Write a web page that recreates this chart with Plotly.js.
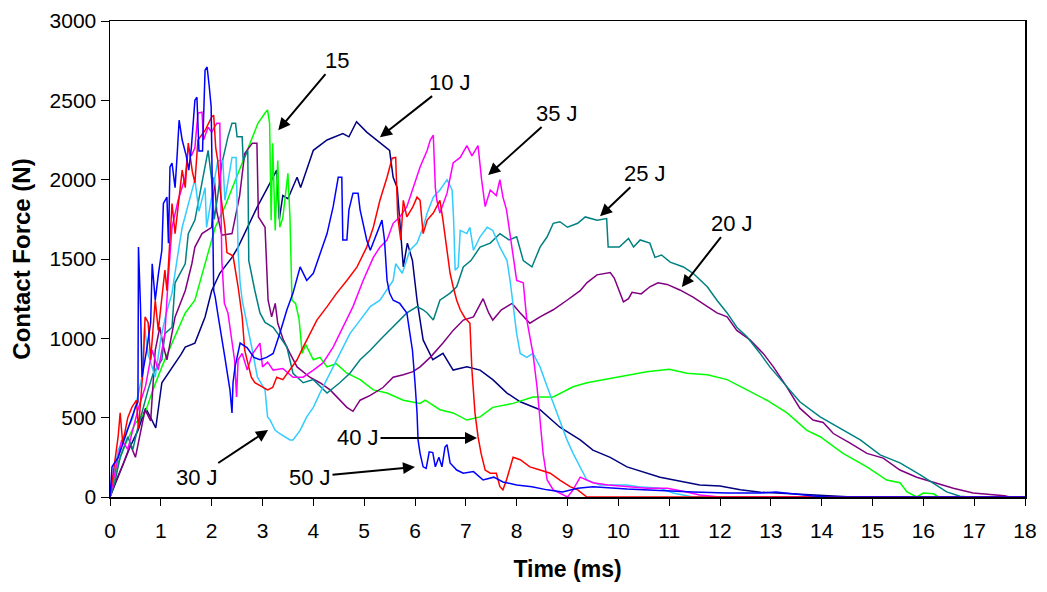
<!DOCTYPE html>
<html>
<head>
<meta charset="utf-8">
<script src="https://cdn.plot.ly/plotly-3.0.1.min.js"></script>
<style>html,body{margin:0;padding:0;background:#fff;}#chart{width:1047px;height:592px;}</style>
</head>
<body>
<div id="chart"></div>
<script>
// ---- data (time in ms, force in N) ----
const t10 = [0,0.1,0.25,0.4,0.55,0.7,0.8,0.9,1.02,1.15,1.28,1.4,1.48,1.67,1.87,2.0,2.16,2.4,2.52,2.7,2.9,3.1,3.28,3.33,3.4,3.5,3.68,3.75,4.0,4.27,4.58,4.7,4.85,5.05,5.25,5.5,5.57,5.65,5.77,5.85,5.95,6.04,6.16,6.35,6.55,6.75,7.02,7.28,7.53,7.81,8.07,8.46,8.85,9.25,9.5,9.84,10.17,10.82,11.6,12.0,12.4,12.8,13.4,14.0,14.6,18];
const f10 = [0,80,200,320,420,560,500,435,720,780,845,900,945,970,1135,1300,1410,1510,1575,1700,1830,1950,2060,1750,1900,1880,2015,1950,2185,2250,2290,2270,2365,2300,2250,2185,2015,1950,1450,1600,1490,1240,990,865,905,800,820,800,740,655,600,550,440,360,295,250,190,125,75,70,45,30,20,10,0,0];

const t15 = [0,0.04,0.16,0.3,0.5,0.69,0.85,1.02,1.22,1.48,1.67,1.87,2.07,2.26,2.52,2.71,2.91,3.05,3.1,3.14,3.17,3.2,3.25,3.3,3.34,3.4,3.5,3.54,3.58,3.65,3.72,3.78,3.85,4.0,4.13,4.27,4.45,4.66,4.92,5.18,5.45,5.77,6.1,6.2,6.49,6.75,7.02,7.28,7.53,7.93,8.32,8.72,9.11,9.38,9.71,10.17,10.56,11.0,11.35,11.75,12.14,12.53,12.92,13.32,13.71,13.97,14.42,14.89,15.28,15.54,15.68,15.87,16.0,16.2,16.3,18];
const f15 = [0,45,215,330,465,530,680,820,970,1160,1240,1470,1700,1830,2040,2205,2355,2420,2440,2355,1745,2230,1680,2120,1700,1760,2040,1765,1240,1220,1120,905,960,865,880,820,840,780,740,675,655,610,590,610,550,530,485,505,565,590,630,630,695,720,740,770,790,805,780,770,740,675,610,530,420,380,275,190,107,90,32,0,25,20,0,0];

const t20 = [0,0.1,0.25,0.4,0.5,0.6,0.69,0.8,0.89,0.98,1.05,1.12,1.2,1.28,1.48,1.61,1.67,1.81,2.0,2.05,2.1,2.2,2.4,2.55,2.65,2.8,2.89,2.92,3.05,3.11,3.18,3.25,3.3,3.41,3.54,3.68,3.93,4.13,4.33,4.52,4.66,4.78,4.92,5.12,5.37,5.57,5.77,5.96,6.1,6.3,6.55,6.75,6.95,7.15,7.34,7.45,7.53,7.7,7.91,8.07,8.26,8.46,8.72,8.99,9.25,9.38,9.58,9.84,9.92,10.1,10.2,10.27,10.45,10.62,10.78,10.96,11.21,11.47,11.75,11.94,12.14,12.33,12.59,12.85,13.05,13.3,13.57,13.83,14.03,14.23,14.56,14.89,15.21,15.54,15.87,16.2,16.59,16.98,17.3,17.6,17.7,18];
const f20 = [0,90,200,330,250,420,550,480,925,1070,950,865,1000,1135,1300,1470,1575,1660,1700,2015,1800,1650,1660,1900,2165,2230,2230,1765,1700,1240,1135,1220,1095,990,905,820,755,720,675,610,565,540,610,640,690,755,770,790,820,880,970,1050,1115,1135,1250,1160,1115,1180,1220,1160,1095,1135,1180,1240,1300,1350,1400,1415,1380,1230,1250,1290,1280,1325,1350,1340,1305,1260,1200,1160,1135,1050,990,905,820,700,560,485,470,400,340,275,245,170,125,95,55,25,15,8,0,0];

const t25 = [0,0.1,0.2,0.35,0.45,0.55,0.75,0.85,1.02,1.08,1.22,1.28,1.48,1.54,1.67,1.81,1.88,1.93,2.0,2.05,2.12,2.2,2.32,2.4,2.47,2.5,2.6,2.62,2.71,2.73,2.85,2.95,3.05,3.21,3.3,3.48,3.6,3.8,4.0,4.27,4.52,4.72,4.92,5.12,5.31,5.5,5.7,5.84,6.04,6.16,6.24,6.36,6.49,6.69,6.82,6.95,7.1,7.28,7.48,7.67,7.85,8.0,8.13,8.3,8.46,8.6,8.72,8.85,9.0,9.2,9.35,9.58,9.77,9.8,10.02,10.2,10.3,10.43,10.62,10.72,10.85,11.02,11.28,11.47,11.75,11.94,12.14,12.33,12.53,12.79,12.98,13.3,13.57,13.97,14.36,14.76,15.15,15.54,15.94,16.2,16.46,16.72,16.9,18];
const f25 = [0,100,250,380,300,440,675,780,865,1030,1070,1350,1470,1660,1745,1980,2105,2185,2000,1750,1900,2100,2270,2355,2355,2270,2270,2120,2185,1490,1300,1160,1100,1070,1030,945,780,720,740,655,720,780,865,925,990,1050,1115,1160,1200,1180,1160,1115,1240,1285,1325,1450,1490,1575,1600,1660,1620,1640,1490,1450,1575,1640,1725,1735,1700,1725,1765,1745,1755,1575,1575,1630,1575,1620,1600,1510,1525,1480,1450,1410,1325,1240,1160,1070,1010,905,820,700,600,505,435,360,265,215,140,88,32,5,0,0];

const t30 = [0,0.08,0.16,0.3,0.45,0.63,0.68,0.75,0.89,1.0,1.1,1.22,1.28,1.34,1.42,1.54,1.67,1.75,1.87,1.9,2.0,2.12,2.22,2.26,2.4,2.48,2.5,2.52,2.56,2.6,2.8,2.9,3.05,3.1,3.15,3.25,3.34,3.54,3.6,3.74,3.87,4.0,4.13,4.33,4.52,4.72,4.92,5.12,5.31,5.45,5.57,5.62,5.75,5.9,6.04,6.16,6.24,6.36,6.49,6.63,6.73,6.76,6.79,6.85,6.89,7.02,7.08,7.15,7.28,7.42,7.53,7.67,7.81,7.87,7.93,8.0,8.07,8.2,8.32,8.46,8.6,8.72,8.85,8.99,9.11,9.25,9.38,9.64,10.17,10.4,10.82,11.08,11.47,18];
const f30 = [0,150,295,400,500,755,1070,900,755,1000,1150,1285,1430,1540,1700,1850,2000,1800,1950,1700,1900,2120,2120,1870,2140,2140,1870,1550,1350,1240,925,755,675,505,485,420,400,360,360,420,505,565,655,780,905,1030,1115,1200,1240,1305,1365,1470,1410,1555,1600,1700,1790,1890,1935,2000,1935,1745,1430,1450,1680,1660,1700,1555,1640,1700,1680,1575,1490,1365,1200,1030,905,880,905,820,695,590,485,360,275,190,107,75,75,65,55,25,0,0];

const t35 = [0,0.1,0.23,0.35,0.55,0.7,0.83,0.95,1.08,1.14,1.18,1.22,1.34,1.48,1.54,1.6,1.67,1.73,1.81,1.84,1.93,2.0,2.1,2.16,2.2,2.25,2.32,2.4,2.45,2.49,2.52,2.6,2.7,2.8,2.95,3.0,3.1,3.21,3.4,3.6,3.8,4.0,4.19,4.39,4.58,4.78,4.98,5.18,5.31,5.45,5.57,5.7,5.84,5.96,6.1,6.24,6.3,6.36,6.4,6.43,6.49,6.63,6.75,6.89,7.02,7.12,7.24,7.31,7.38,7.48,7.6,7.67,7.73,7.8,7.87,7.93,8.0,8.13,8.2,8.32,8.4,8.46,8.52,8.6,8.72,9.0,9.1,9.25,9.5,9.8,10.17,10.56,10.96,11.3,11.6,12.0,18];
const f35 = [0,150,360,300,550,700,925,800,1030,1350,1510,1700,1870,2015,2205,2150,2200,2420,2425,2250,2330,2300,2355,2355,1490,1220,1160,970,865,630,865,905,800,900,970,820,850,800,810,755,755,800,845,945,1070,1200,1365,1510,1575,1620,1725,1765,1830,1950,2080,2185,2250,2280,1950,1870,1790,1915,2105,2140,2215,2150,2215,2000,1830,1935,1900,2000,1890,1810,1660,1540,1365,1350,1115,905,695,485,275,107,45,0,40,125,90,75,65,55,55,35,12,0,0];

const t40 = [0,0.04,0.16,0.2,0.25,0.35,0.43,0.52,0.56,0.65,0.69,0.75,0.8,0.89,0.95,1.08,1.12,1.22,1.28,1.42,1.48,1.54,1.62,1.67,1.73,1.87,2.0,2.04,2.08,2.12,2.16,2.26,2.3,2.42,2.52,2.6,2.65,2.71,2.78,2.85,3.0,3.1,3.2,3.28,3.4,3.54,3.68,3.8,3.93,4.07,4.27,4.46,4.66,4.86,5.05,5.18,5.31,5.45,5.55,5.62,5.64,5.66,5.72,5.77,5.84,5.96,6.04,6.1,6.16,6.24,6.36,6.49,6.55,6.63,6.69,6.75,6.82,6.89,6.98,7.08,7.12,7.18,7.24,7.3,7.38,7.48,7.6,7.67,7.73,7.8,7.93,8.07,8.26,8.46,8.66,8.85,9.05,9.2,9.38,18];
const f40 = [0,90,380,530,340,500,565,610,430,800,1135,1100,865,1240,1050,1430,1300,1850,1660,2060,1950,2230,2050,1980,2250,2310,2395,2405,2200,2120,1950,1700,1540,1520,1325,1135,925,845,755,720,695,675,690,755,740,800,865,945,1030,1115,1200,1285,1365,1450,1575,1700,1870,2015,2135,2140,1950,1765,1620,1870,1765,1830,1890,1870,1660,1745,1790,1870,1745,1555,1410,1325,1240,1180,1130,1095,800,530,380,275,170,150,150,65,45,107,250,235,190,170,150,107,65,45,0,0];

const t50 = [0,0.04,0.16,0.3,0.43,0.5,0.55,0.56,0.6,0.63,0.72,0.8,0.83,0.89,0.95,1.02,1.05,1.12,1.15,1.18,1.22,1.28,1.32,1.36,1.42,1.5,1.55,1.6,1.67,1.71,1.75,1.82,1.87,1.91,1.95,1.99,2.04,2.07,2.13,2.2,2.26,2.32,2.36,2.4,2.42,2.46,2.56,2.7,2.83,2.95,3.08,3.21,3.34,3.48,3.6,3.74,3.87,4.0,4.13,4.27,4.39,4.49,4.56,4.58,4.66,4.7,4.78,4.88,4.92,5.05,5.12,5.25,5.35,5.4,5.45,5.5,5.57,5.7,5.84,5.9,5.95,6.0,6.04,6.06,6.1,6.16,6.22,6.28,6.35,6.4,6.47,6.53,6.59,6.63,6.69,6.82,6.95,7.15,7.34,7.55,7.73,8.0,8.3,8.6,8.9,9.2,9.5,10.17,10.82,11.47,12.14,12.8,13.1,13.4,13.8,14.1,18];
const f50 = [0,190,250,380,505,565,600,1575,1200,755,925,1100,1470,1240,1400,1555,1850,1890,1600,2080,2105,1950,2150,2375,2250,2150,2060,2200,2500,2520,2180,2180,2690,2710,2595,2460,1300,1260,1135,1010,880,755,675,530,720,820,970,940,880,865,880,905,1030,1180,1285,1450,1365,1410,1530,1660,1830,2015,2015,1620,1620,1810,1915,1915,1810,1620,1555,1660,1745,1620,1365,1285,1240,1220,1160,1030,925,720,530,360,275,190,180,285,280,190,250,190,315,330,215,170,150,160,107,125,95,75,65,45,32,55,65,50,40,32,25,25,32,20,8,0,0];

const seriesNames = ['10 J','15 J','20 J','25 J','30 J','35 J','40 J','50 J'];
const seriesColors = ['#000080','#00FF00','#800080','#008080','#33CCFF','#FF00FF','#FF0000','#0000FF'];
const seriesT = [t10,t15,t20,t25,t30,t35,t40,t50];
const seriesF = [f10,f15,f20,f25,f30,f35,f40,f50];

// annotation labels: text, arrow-head position (time, force), text offset in px
const labelText = ['15','10 J','35 J','25 J','20 J','30 J','50 J','40 J'];
const labelT = [3.31,5.31,7.44,9.64,11.25,3.11,6.0,7.22];
const labelF = [2312,2268,2029,1770,1323,422,189,372];
const labelDx = [59,70,69,45,50,-71,-105,-119];
const labelDy = [-70,-55,-62,-43,-64,47,10,0];

const FONT = 'Liberation Sans, Arial, sans-serif';

const traces = seriesT.map((t,i)=>({
  x: t, y: seriesF[i], type:'scatter', mode:'lines', name: seriesNames[i],
  line:{color: seriesColors[i], width:1.5}, hoverinfo:'x+y+name'
}));

const annotations = labelText.map((s,i)=>({
  x: labelT[i], y: labelF[i], xref:'x', yref:'y', text: s,
  showarrow:true, ax: labelDx[i], ay: labelDy[i], arrowhead:2, arrowsize:1.2,
  arrowwidth:2, arrowcolor:'#000', standoff:0, startstandoff:0,
  font:{family:FONT, size:22, color:'#000'}
}));

const layout = {
  width:1047, height:592,
  margin:{l:110, r:22, t:21, b:95},
  paper_bgcolor:'#fff', plot_bgcolor:'#fff',
  showlegend:false,
  font:{family:FONT, color:'#000'},
  xaxis:{
    range:[0,18], dtick:1, tick0:0, showgrid:false, zeroline:false,
    showline:true, linecolor:'#000', linewidth:1.5, mirror:true,
    ticks:'outside', ticklen:7, tickcolor:'#000', tickwidth:1,
    ticklabelstandoff:7,
    tickfont:{family:FONT, size:21, color:'#000'},
    title:{text:'<b>Time (ms)</b>', font:{family:FONT, size:23, color:'#000'}, standoff:20}
  },
  yaxis:{
    range:[0,3000], dtick:500, tick0:0, showgrid:false, zeroline:false,
    showline:true, linecolor:'#000', linewidth:1.5, mirror:true,
    ticks:'outside', ticklen:8, tickcolor:'#000', tickwidth:1,
    tickfont:{family:FONT, size:21, color:'#000'},
    title:{text:'<b>Contact Force (N)</b>', font:{family:FONT, size:24, color:'#000'}, standoff:12}
  },
  annotations: annotations
};

Plotly.newPlot('chart', traces, layout, {staticPlot:true});
</script>
</body>
</html>
